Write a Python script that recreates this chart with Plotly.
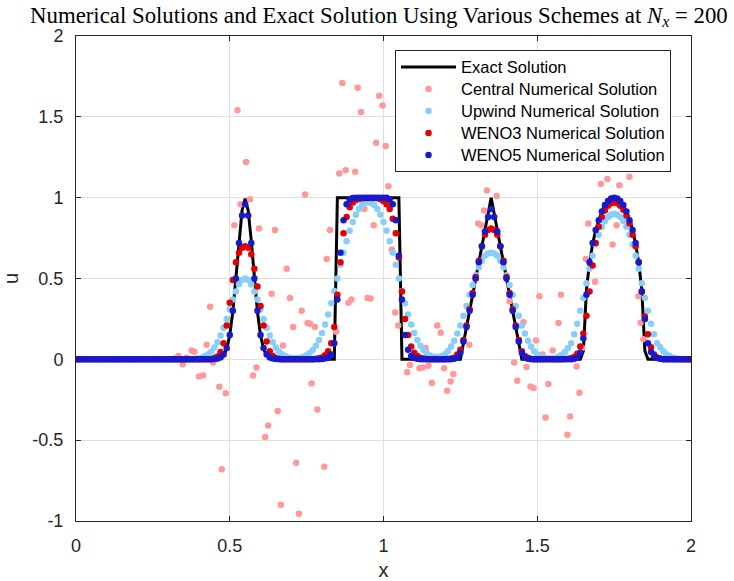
import numpy as np
import plotly.graph_objects as go

# grid x = 0.00 ... 2.00 (Nx = 200)
x_grid = np.linspace(0, 2, 201)

exact_u = [
    0, 0, 0, 0, 0, 0, 0, 0, 0, 0,
    0, 0, 0, 0, 0, 0, 0, 0, 0, 0,
    0, 0, 0, 0, 0, 0, 0, 0, 0, 0,
    0, 0, 0, 0, 0, 0, 0, 0, 0, 0,
    0, 0, 0, 0, 0, 0.001, 0.002, 0.008, 0.024, 0.064,
    0.149, 0.295, 0.501, 0.733, 0.921, 0.994, 0.921, 0.733, 0.501, 0.295,
    0.149, 0.064, 0.024, 0.008, 0.002, 0.001, 0, 0, 0, 0,
    0, 0, 0, 0, 0, 0, 0, 0, 0, 0,
    0, 0, 0, 0, 0, 1, 1, 1, 1, 1,
    1, 1, 1, 1, 1, 1, 1, 1, 1, 1,
    1, 1, 1, 1, 1, 1, 0, 0, 0, 0,
    0, 0, 0, 0, 0, 0, 0, 0, 0, 0,
    0, 0, 0, 0, 0, 0, 0.1, 0.2, 0.3, 0.4,
    0.5, 0.6, 0.7, 0.8, 0.9, 1.0, 0.9, 0.8, 0.7, 0.6,
    0.5, 0.4, 0.3, 0.2, 0.1, 0, 0, 0, 0, 0,
    0, 0, 0, 0, 0, 0, 0, 0, 0, 0,
    0, 0, 0, 0, 0, 0.052, 0.431, 0.598, 0.713, 0.799,
    0.865, 0.916, 0.954, 0.979, 0.995, 1.0, 0.995, 0.979, 0.954, 0.916,
    0.865, 0.799, 0.713, 0.598, 0.431, 0.052, 0, 0, 0, 0,
    0, 0, 0, 0, 0, 0, 0, 0, 0, 0,
    0,
]

upwind_u = [
    0, 0, 0, 0, 0, 0, 0, 0, 0, 0,
    0, 0, 0, 0, 0, 0, 0, 0, 0, 0,
    0, 0, 0, 0, 0, 0, 0, 0, 0, 0,
    0, 0, 0, 0, 0, 0, 0, 0.001, 0.002, 0.004,
    0.007, 0.012, 0.02, 0.032, 0.049, 0.073, 0.105, 0.147, 0.195, 0.25,
    0.31, 0.37, 0.42, 0.465, 0.49, 0.50, 0.49, 0.465, 0.42, 0.37,
    0.31, 0.25, 0.195, 0.147, 0.105, 0.073, 0.049, 0.032, 0.02, 0.012,
    0.009, 0.007, 0.0075, 0.01, 0.0155, 0.025, 0.039, 0.058, 0.084, 0.119,
    0.163, 0.216, 0.278, 0.347, 0.422, 0.5, 0.585, 0.66, 0.73, 0.795,
    0.85, 0.895, 0.93, 0.955, 0.968, 0.972, 0.968, 0.955, 0.93, 0.895,
    0.85, 0.795, 0.73, 0.66, 0.585, 0.5, 0.422, 0.347, 0.278, 0.216,
    0.163, 0.119, 0.084, 0.058, 0.039, 0.025, 0.018, 0.014, 0.016, 0.021,
    0.032, 0.051, 0.08, 0.115, 0.16, 0.21, 0.27, 0.33, 0.40, 0.46,
    0.52, 0.57, 0.61, 0.64, 0.655, 0.66, 0.655, 0.64, 0.61, 0.57,
    0.52, 0.46, 0.40, 0.33, 0.27, 0.21, 0.16, 0.115, 0.08, 0.05,
    0.03, 0.018, 0.01, 0.007, 0.005, 0.006, 0.01, 0.017, 0.028, 0.045,
    0.07, 0.10, 0.155, 0.22, 0.30, 0.38, 0.47, 0.56, 0.64, 0.71,
    0.77, 0.82, 0.855, 0.88, 0.895, 0.90, 0.895, 0.88, 0.855, 0.82,
    0.77, 0.71, 0.64, 0.56, 0.47, 0.38, 0.30, 0.22, 0.155, 0.10,
    0.075, 0.05, 0.032, 0.02, 0.012, 0.007, 0.004, 0.002, 0.001, 0,
    0,
]

weno3_u = [
    0, 0, 0, 0, 0, 0, 0, 0, 0, 0,
    0, 0, 0, 0, 0, 0, 0, 0, 0, 0,
    0, 0, 0, 0, 0, 0, 0, 0, 0, 0,
    0, 0, 0, 0, 0, 0, 0, 0, 0, 0,
    0, 0, 0, 0, 0.002, 0.008, 0.018, 0.045, 0.10, 0.21,
    0.35, 0.49, 0.60, 0.66, 0.69, 0.70, 0.69, 0.65, 0.56, 0.45,
    0.33, 0.21, 0.11, 0.05, 0.02, 0.008, 0.003, 0.001, 0, 0,
    0, 0, 0, 0, 0, 0, 0, 0.001, 0.003, 0.006,
    0.012, 0.025, 0.05, 0.10, 0.20, 0.40, 0.60, 0.78, 0.88, 0.94,
    0.97, 0.985, 0.992, 0.996, 0.998, 0.998, 0.998, 0.998, 0.996, 0.99,
    0.98, 0.96, 0.93, 0.87, 0.78, 0.63, 0.42, 0.25, 0.15, 0.08,
    0.04, 0.02, 0.01, 0.005, 0.002, 0.001, 0, 0, 0, 0,
    0, 0.002, 0.005, 0.01, 0.03, 0.06, 0.12, 0.21, 0.31, 0.41,
    0.51, 0.61, 0.70, 0.77, 0.80, 0.81, 0.80, 0.77, 0.70, 0.61,
    0.51, 0.41, 0.31, 0.21, 0.12, 0.05, 0.02, 0.01, 0.004, 0.001,
    0, 0, 0, 0, 0, 0, 0, 0, 0.001, 0.002,
    0.003, 0.006, 0.015, 0.035, 0.08, 0.16, 0.27, 0.42, 0.58, 0.72,
    0.82, 0.88, 0.92, 0.95, 0.965, 0.97, 0.965, 0.95, 0.925, 0.89,
    0.84, 0.77, 0.70, 0.60, 0.42, 0.265, 0.155, 0.075, 0.03, 0.012,
    0.005, 0.002, 0.001, 0, 0, 0, 0, 0, 0, 0,
    0,
]

weno5_u = [
    0, 0, 0, 0, 0, 0, 0, 0, 0, 0,
    0, 0, 0, 0, 0, 0, 0, 0, 0, 0,
    0, 0, 0, 0, 0, 0, 0, 0, 0, 0,
    0, 0, 0, 0, 0, 0, 0, 0, 0, 0,
    0, 0, 0, 0, 0, 0.002, 0.005, 0.012, 0.03, 0.07,
    0.15, 0.30, 0.50, 0.72, 0.89, 0.96, 0.89, 0.72, 0.50, 0.30,
    0.15, 0.07, 0.03, 0.012, 0.005, 0.002, 0, 0, 0, 0,
    0, 0, 0, 0, 0, 0, 0, 0, 0, 0.001,
    0.002, 0.005, 0.01, 0.03, 0.10, 0.37, 0.66, 0.86, 0.96, 0.99,
    0.998, 1, 1, 1, 1, 1, 1, 1, 1, 1,
    1, 1, 0.99, 0.96, 0.86, 0.64, 0.37, 0.15, 0.06, 0.02,
    0.008, 0.003, 0.001, 0, 0, 0, 0, 0, 0, 0,
    0, 0, 0, 0.003, 0.01, 0.04, 0.11, 0.20, 0.30, 0.40,
    0.50, 0.60, 0.70, 0.79, 0.88, 0.93, 0.88, 0.79, 0.70, 0.60,
    0.50, 0.40, 0.30, 0.20, 0.11, 0.04, 0.01, 0.003, 0, 0,
    0, 0, 0, 0, 0, 0, 0, 0, 0, 0,
    0, 0, 0.004, 0.01, 0.04, 0.13, 0.40, 0.60, 0.72, 0.80,
    0.86, 0.915, 0.955, 0.98, 0.995, 1.0, 0.995, 0.98, 0.955, 0.915,
    0.86, 0.80, 0.72, 0.60, 0.42, 0.25, 0.10, 0.045, 0.02, 0.008,
    0.003, 0.001, 0, 0, 0, 0, 0, 0, 0, 0,
    0,
]

# central scheme: visible (oscillating) points
central_x = [
    0.30, 0.32, 0.333, 0.347, 0.36, 0.376, 0.385, 0.40, 0.413, 0.425,
    0.436, 0.446, 0.456, 0.466, 0.474, 0.487, 0.515, 0.525, 0.535, 0.553,
    0.566, 0.576, 0.587, 0.595, 0.615, 0.625, 0.636, 0.647, 0.656, 0.666,
    0.673, 0.685, 0.696, 0.706, 0.716, 0.725, 0.734, 0.745, 0.753, 0.761,
    0.766, 0.777, 0.785, 0.807, 0.815, 0.826, 0.837, 0.846, 0.856, 0.866,
    0.877, 0.886, 0.896, 0.908, 0.916, 0.927, 0.938, 0.948, 0.958, 0.968,
    0.976, 0.986, 0.997, 1.007, 1.016, 1.027, 1.038, 1.048, 1.077, 1.086,
    1.117, 1.128, 1.137, 1.146, 1.157, 1.175, 1.186, 1.197, 1.207, 1.218,
    1.227, 1.279, 1.298, 1.308, 1.317, 1.327, 1.336, 1.368, 1.41, 1.425,
    1.435, 1.455, 1.465, 1.478, 1.488, 1.496, 1.507, 1.517, 1.527, 1.536,
    1.55, 1.569, 1.577, 1.598, 1.607, 1.617, 1.628, 1.637, 1.646, 1.658,
    1.666, 1.688, 1.707, 1.728, 1.745, 1.758, 1.767, 1.80, 1.829, 1.836,
    1.845,
]
central_u = [
    0.0, 0.005, 0.02, -0.03, 0.01, 0.055, 0.047, -0.106, -0.10, 0.09,
    0.325, -0.02, 0.0, -0.17, -0.68, -0.21, 0.83, 1.54, 0.96, 1.22,
    0.99, -0.10, -0.05, 0.81, -0.48, -0.41, 0.405, 0.80, -0.32, -0.90,
    0.085, 0.56, 0.38, 0.20, -0.64, -0.955, 0.30, 1.02, 0.225, 0.22,
    -0.15, 0.20, -0.31, -0.665, 0.62, 0.80, 0.10, 0.17, 1.15, 1.71,
    1.17, 0.35, 0.37, 1.16, 1.68, 1.53, 0.93, 0.38, 0.376, 0.83,
    1.34, 1.63, 1.57, 1.32, 1.07, 0.68, 0.29, 0.21, -0.08, -0.035,
    -0.055, -0.05, 0.07, -0.04, -0.147, 0.21, 0.165, -0.055, -0.195, -0.137,
    -0.09, 0.09, 0.50, 0.84, 0.83, 0.92, 1.044, 1.01, 0.36, -0.02,
    -0.133, 0.23, -0.048, -0.168, -0.178, 0.116, 0.39, 0.03, -0.36, -0.153,
    0.055, 0.224, 0.40, -0.467, -0.354, 0.0, -0.045, -0.206, 0.07, 0.62,
    0.84, 0.48, 1.085, 1.116, 0.71, 0.83, 1.077, 1.13, 0.39, 0.227,
    0.125,
]

series_names = [
    "Exact Solution",
    "Central Numerical Solution",
    "Upwind Numerical Solution",
    "WENO3 Numerical Solution",
    "WENO5 Numerical Solution",
]

x_ticks = [0, 0.5, 1, 1.5, 2]
x_tick_text = ["0", "0.5", "1", "1.5", "2"]
y_ticks = [-1, -0.5, 0, 0.5, 1, 1.5, 2]
y_tick_text = ["-1", "-0.5", "0", "0.5", "1", "1.5", "2"]


def legend_label(s):
    # larger glyphs inside a legend laid out with a slightly smaller line pitch
    return '<span style="font-size:16.5px">' + s + "</span>"


MS = 6.5
fig = go.Figure()
fig.add_trace(go.Scatter(x=x_grid, y=exact_u, mode="lines",
                         line=dict(color="black", width=3), name=legend_label(series_names[0])))
fig.add_trace(go.Scatter(x=central_x, y=central_u, mode="markers",
                         marker=dict(color="rgb(255,153,153)", size=MS),
                         name=legend_label(series_names[1])))
fig.add_trace(go.Scatter(x=x_grid, y=upwind_u, mode="markers",
                         marker=dict(color="rgb(135,206,250)", size=MS),
                         name=legend_label(series_names[2])))
fig.add_trace(go.Scatter(x=x_grid, y=weno3_u, mode="markers",
                         marker=dict(color="rgb(230,0,0)", size=MS),
                         name=legend_label(series_names[3])))
fig.add_trace(go.Scatter(x=x_grid, y=weno5_u, mode="markers",
                         marker=dict(color="rgb(25,25,204)", size=MS),
                         name=legend_label(series_names[4])))

axis_common = dict(
    showgrid=True, gridcolor="#e0e0e0", gridwidth=1,
    showline=True, linecolor="#262626", linewidth=1, mirror="ticks",
    ticks="inside", ticklen=5, tickcolor="#262626",
    tickfont=dict(family="Liberation Sans, Arial", size=18, color="#262626"),
    zeroline=False, automargin=False,
)

fig.update_layout(
    width=734, height=581,
    margin=dict(l=76, r=43, t=36, b=60),
    plot_bgcolor="white", paper_bgcolor="white",
    title=dict(
        text="Numerical Solutions and Exact Solution Using Various Schemes at <i>N<sub>x</sub></i> = 200",
        x=0.4925, xref="paper", xanchor="center",
        y=0.975, yref="container", yanchor="middle",
        font=dict(family="Liberation Serif", size=22.8, color="black"),
    ),
    legend=dict(
        x=0.5187, y=0.971, xanchor="left", yanchor="top",
        bordercolor="#262626", borderwidth=1, bgcolor="white",
        font=dict(family="Liberation Sans, Arial", size=14.6, color="black"),
        itemwidth=55,
    ),
    xaxis=dict(range=[0, 2], tickvals=x_ticks, ticktext=x_tick_text,
               title=dict(text="x", font=dict(family="Liberation Sans, Arial", size=20, color="#262626"), standoff=8),
               ticklabelstandoff=8, **axis_common),
    yaxis=dict(range=[-1, 2], tickvals=y_ticks, ticktext=y_tick_text,
               title=dict(text="u", font=dict(family="Liberation Sans, Arial", size=20, color="#262626"), standoff=12),
               ticklabelstandoff=8, **axis_common),
)

fig.write_html("out.html", config={"displayModeBar": False},
               post_script="document.body.style.margin='0';")
